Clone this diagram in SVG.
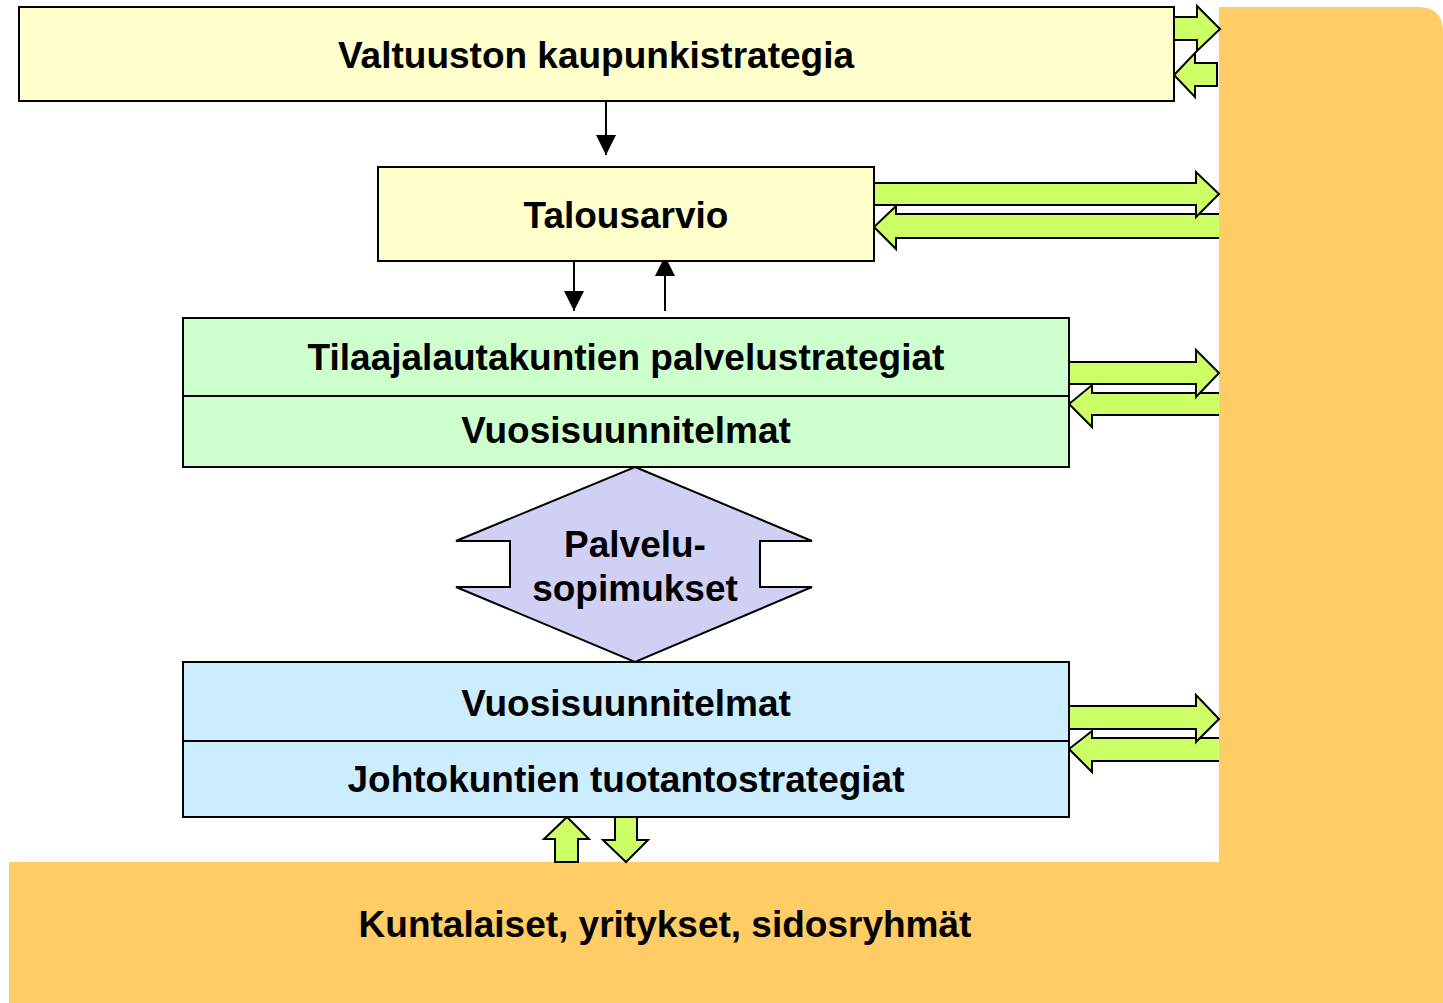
<svg xmlns="http://www.w3.org/2000/svg" width="1443" height="1003" viewBox="0 0 1443 1003">
<style>
.t{font-family:"Liberation Sans",Arial,sans-serif;font-weight:bold;font-size:37px;fill:#000;text-anchor:middle}
.box{stroke:#000;stroke-width:2}
.ga{fill:#CCFF66;stroke:#000;stroke-width:2;stroke-linejoin:miter}
.ln{stroke:#000;stroke-width:2;fill:none}
</style>
<defs>
<marker id="ah" viewBox="0 0 20 20" refX="20" refY="10" markerWidth="20" markerHeight="20" markerUnits="userSpaceOnUse" orient="auto">
<path d="M0,0 L20,10 L0,20 Z" fill="#000"/>
</marker>
</defs>
<rect width="1443" height="1003" fill="#fff"/>

<g id="connectors">
<!-- left-pointing arrows (under orange) -->
<polygon class="ga" points="1217,63 1195,63 1195,53 1174,75 1195,97 1195,86 1217,86"/>
<polygon class="ga" points="1225,214 896,214 896,206 874,227 896,249 896,238 1225,238"/>
<polygon class="ga" points="1225,393 1092,393 1092,385 1069,404 1092,427 1092,415 1225,415"/>
<polygon class="ga" points="1225,738 1092,738 1092,731 1069,749 1092,772 1092,761 1225,761"/>
</g>

<g id="stakeholders">
<path d="M1219,7 L1418,7 Q1443,7 1443,32 L1443,1003 L9,1003 L9,862 L1219,862 Z" fill="#FFCC66"/>
<text class="t" x="665" y="937">Kuntalaiset, yritykset, sidosryhmät</text>
</g>

<g id="connectors2">
<polygon class="ga" points="1174,17 1197,17 1197,6 1220,29 1197,51 1197,40 1174,40"/>
<polygon class="ga" points="874,183 1196,183 1196,172 1219,194 1196,217 1196,205 874,205"/>
<polygon class="ga" points="1069,362 1196,362 1196,350 1219,373 1196,397 1196,384 1069,384"/>
<polygon class="ga" points="1069,706 1196,706 1196,695 1219,719 1196,742 1196,729 1069,729"/>
<polygon class="ga" points="555,862 555,839 544,839 567,817 589,839 578,839 578,862"/>
<polygon class="ga" points="615,817 637,817 637,840 648,840 626,862 603,840 615,840"/>
<line class="ln" x1="606" y1="101" x2="606" y2="155" marker-end="url(#ah)"/>
<line class="ln" x1="574" y1="261" x2="574" y2="311" marker-end="url(#ah)"/>
<line class="ln" x1="665" y1="311" x2="665" y2="256" marker-end="url(#ah)"/>
</g>

<g id="strategy">
<rect class="box" x="19" y="7" width="1155" height="94" fill="#FFFFCC"/>
<text class="t" x="596" y="68">Valtuuston kaupunkistrategia</text>
</g>

<g id="budget">
<rect class="box" x="378" y="167" width="496" height="94" fill="#FFFFCC"/>
<text class="t" x="626" y="228">Talousarvio</text>
</g>

<g id="purchaser">
<rect class="box" x="183" y="318" width="886" height="149" fill="#CCFFCC"/>
<line class="ln" x1="183" y1="396" x2="1069" y2="396"/>
<text class="t" x="626" y="370">Tilaajalautakuntien palvelustrategiat</text>
<text class="t" x="626" y="443">Vuosisuunnitelmat</text>
</g>

<g id="contracts">
<polygon points="635,467 812,541 760,541 760,587 812,587 635,662 456,587 510,587 510,541 456,541" fill="#D0D0F4" stroke="#000" stroke-width="2"/>
<text class="t" x="635" y="557">Palvelu-</text>
<text class="t" x="635" y="601">sopimukset</text>
</g>

<g id="producer">
<rect class="box" x="183" y="662" width="886" height="155" fill="#CCECFF"/>
<line class="ln" x1="183" y1="741" x2="1069" y2="741"/>
<text class="t" x="626" y="716">Vuosisuunnitelmat</text>
<text class="t" x="626" y="792">Johtokuntien tuotantostrategiat</text>
</g>
</svg>
